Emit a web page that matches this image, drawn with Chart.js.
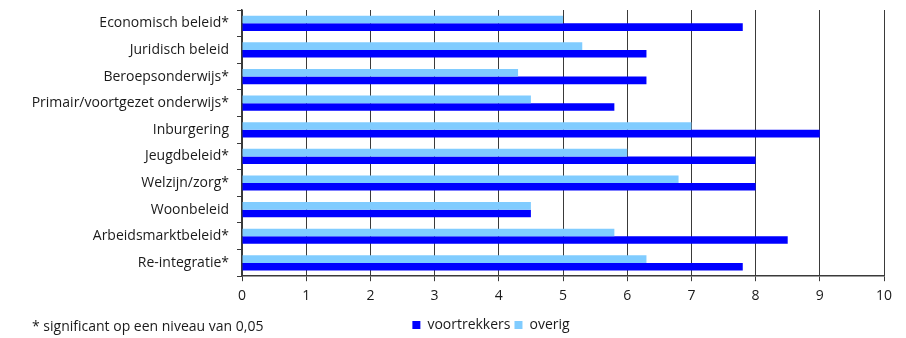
<!DOCTYPE html>
<html>
<head>
<meta charset="utf-8">
<script src="https://cdn.jsdelivr.net/npm/chart.js@4/dist/chart.umd.min.js"></script>
<style>
  html, body { margin: 0; padding: 0; background: #fff; }
  #wrap { width: 906px; height: 338px; position: relative; }
</style>
</head>
<body>
<div id="wrap"><canvas id="chart"></canvas></div>
<script>
// categories and scores per group
const categories = [
  "Economisch beleid*",
  "Juridisch beleid",
  "Beroepsonderwijs*",
  "Primair/voortgezet onderwijs*",
  "Inburgering",
  "Jeugdbeleid*",
  "Welzijn/zorg*",
  "Woonbeleid",
  "Arbeidsmarktbeleid*",
  "Re-integratie*"
];
const voortrekkers = [7.8, 6.3, 6.3, 5.8, 9.0, 8.0, 8.0, 4.5, 8.5, 7.8];
const overig = [5.0, 5.3, 4.3, 4.5, 7.0, 6.0, 6.8, 4.5, 5.8, 6.3];
const xTicks = [0, 1, 2, 3, 4, 5, 6, 7, 8, 9, 10];
const footnote = "* significant op een niveau van 0,05";

const fontFamily = "'Open Sans', 'Liberation Sans', sans-serif";
const textColor = "#1a1a1a";
const lineColor = "#3a3a3a";

// footnote bottom left, legend pushed right of centre and down
const footnotePlugin = {
  id: "footnote",
  afterLayout(chart) {
    const lg = chart.legend;
    lg.left += 90;
    lg.top += 4;
    lg.bottom += 4;
  },
  afterDraw(chart) {
    const ctx = chart.ctx;
    ctx.save();
    ctx.font = "14px " + fontFamily;
    ctx.fillStyle = textColor;
    ctx.textBaseline = "middle";
    ctx.textAlign = "left";
    ctx.fillText(footnote, 32, 327);
    ctx.restore();
  }
};

const ctx = document.getElementById("chart").getContext("2d");
new Chart(ctx, {
  type: "bar",
  data: {
    labels: categories,
    datasets: [
      {
        label: "overig",
        data: overig,
        backgroundColor: "#80ccff",
        barPercentage: 1,
        categoryPercentage: 0.57
      },
      {
        label: "voortrekkers",
        data: voortrekkers,
        backgroundColor: "#0000ff",
        barPercentage: 1,
        categoryPercentage: 0.57
      }
    ]
  },
  options: {
    indexAxis: "y",
    responsive: true,
    maintainAspectRatio: false,
    animation: false,
    layout: { padding: { top: 10, left: 8, right: 22, bottom: 0 } },
    plugins: {
      legend: {
        position: "bottom",
        reverse: true,
        labels: {
          boxWidth: 8,
          boxHeight: 8,
          padding: 4,
          color: textColor,
          font: { family: fontFamily, size: 14 }
        }
      },
      tooltip: { enabled: false }
    },
    scales: {
      x: {
        min: 0,
        max: 10,
        afterBuildTicks(axis) {
          axis.ticks = xTicks.map(v => ({ value: v }));
        },
        grid: {
          color: lineColor,
          lineWidth: 1,
          tickLength: 5
        },
        border: { color: lineColor, width: 1.5 },
        ticks: {
          color: textColor,
          padding: 6,
          maxRotation: 0,
          font: { family: fontFamily, size: 14 }
        }
      },
      y: {
        afterFit(axis) {
          axis.width = 234;
          axis.paddingTop = 0;
          axis.paddingBottom = 0;
        },
        grid: {
          drawOnChartArea: false,
          color: lineColor,
          tickLength: 5
        },
        border: { color: lineColor, width: 1.5 },
        ticks: {
          color: textColor,
          padding: 8,
          font: { family: fontFamily, size: 14 }
        }
      }
    }
  },
  plugins: [footnotePlugin]
});
</script>
</body>
</html>
